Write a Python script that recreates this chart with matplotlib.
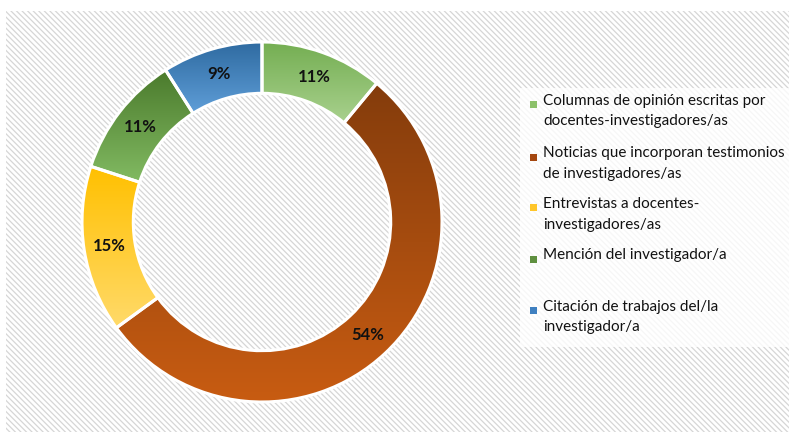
import numpy as np
import matplotlib.pyplot as plt
from matplotlib.patches import Rectangle
from matplotlib.colors import LinearSegmentedColormap

labels = ['Columnas de opinión escritas por\ndocentes-investigadores/as',
          'Noticias que incorporan testimonios\nde investigadores/as',
          'Entrevistas a docentes-\ninvestigadores/as',
          'Mención del investigador/a',
          'Citación de trabajos del/la\ninvestigador/a']
values = [11, 54, 15, 11, 9]
# gradient top / bottom colours and legend swatch colours
top_cols = ['#74ae52', '#843c0c', '#ffc000', '#4a7a2c', '#2e6aa0']
bot_cols = ['#a9d18e', '#c85c12', '#ffda6a', '#82ba62', '#5f9ed8']
leg_cols = ['#8cc16a', '#a4470f', '#ffc62a', '#5f9040', '#3f80c0']

W, H = 789, 432
fig = plt.figure(figsize=(W / 100, H / 100), dpi=100)
fig.patch.set_facecolor('white')

plt.rcParams['hatch.linewidth'] = 0.9
plt.rcParams['hatch.color'] = '#d6d6d6'
bg = Rectangle((6 / W, 0), 1 - 6 / W, 1 - 11 / H, transform=fig.transFigure,
               facecolor='white', edgecolor='#d6d6d6', hatch='\\\\\\\\\\\\',
               lw=0, zorder=-2)
fig.patches.append(bg)

# donut axes, centre (262, 222) px, outer radius 180 px
cx, cy, R = 262, 222, 180
half = 190
ax = fig.add_axes([(cx - half) / W, (H - cy - half) / H, 2 * half / W, 2 * half / H])
ax.axis('off')
ax.patch.set_alpha(0)

wedges, _ = ax.pie(values, startangle=90, counterclock=False, radius=1,
                   wedgeprops=dict(width=0.285, edgecolor='white', linewidth=2.2))
grad = np.linspace(0, 1, 256).reshape(-1, 1)
for w, tc, bc in zip(wedges, top_cols, bot_cols):
    ext = w.get_path().get_extents()
    cmap = LinearSegmentedColormap.from_list('g', [tc, bc])
    im = ax.imshow(grad, cmap=cmap, aspect='auto', origin='upper',
                   extent=(ext.x0, ext.x1, ext.y0, ext.y1), zorder=1)
    im.set_clip_path(w)
    w.set_facecolor('none')
    w.set_zorder(2)
ax.set_xlim(-half / R, half / R)
ax.set_ylim(-half / R, half / R)

rmid = 1 - 0.285 / 2
start = 90
for v in values:
    ang = np.deg2rad(start - v / 2 * 3.6)
    start -= v * 3.6
    ax.text(rmid * np.cos(ang), rmid * np.sin(ang), f'{v}%', ha='center',
            va='center', fontsize=12, fontweight='bold', family='Lato',
            color='#111111', zorder=3)

# legend box
fig.patches.append(Rectangle((520 / W, 1 - 347 / H), 1 - 520 / W, (347 - 88) / H,
                             transform=fig.transFigure, facecolor='white',
                             alpha=0.8, lw=0, zorder=-1))
ys = [104, 157, 208, 259, 310]
for lab, c, y in zip(labels, leg_cols, ys):
    fig.patches.append(Rectangle((530 / W, 1 - (y + 3.5) / H), 7 / W, 7 / H,
                                 transform=fig.transFigure, facecolor=c, lw=0))
    fig.text(543 / W, 1 - (y - 10.5) / H, lab, ha='left', va='top',
             fontsize=11, family='Lato', color='#111111', linespacing=1.62)

fig.savefig('out.png', dpi=100)
